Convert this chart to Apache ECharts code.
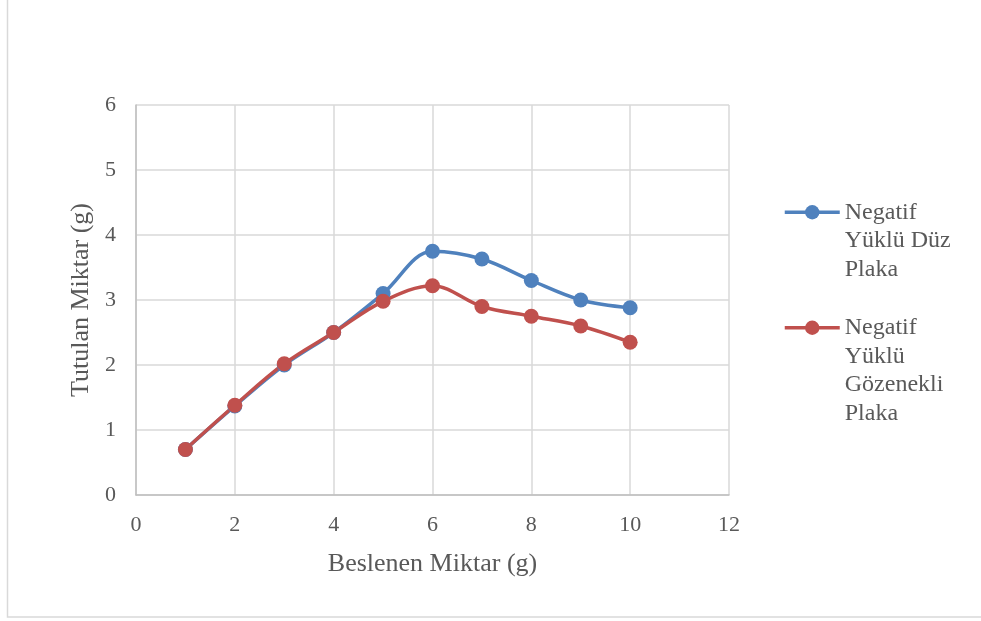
<!DOCTYPE html>
<html>
<head>
<meta charset="utf-8">
<script src="https://cdn.jsdelivr.net/npm/echarts@6/dist/echarts.min.js"></script>
<style>
  html, body { margin: 0; padding: 0; background: #ffffff; }
  #chart { width: 981px; height: 621px; }
</style>
</head>
<body>
<div id="chart"></div>
<script>
// Fed amount (g) and retained amount (g) for the two plate types
const beslenen = [1, 2, 3, 4, 5, 6, 7, 8, 9, 10];
const duzPlaka = [0.70, 1.37, 2.00, 2.50, 3.10, 3.75, 3.63, 3.30, 3.00, 2.88];
const gozenekliPlaka = [0.70, 1.38, 2.02, 2.50, 2.98, 3.22, 2.90, 2.75, 2.60, 2.35];
const seriesNames = ['Negatif Yüklü Düz Plaka', 'Negatif Yüklü Gözenekli Plaka'];
// Legend text broken into lines, as in the chart's legend box
const legendLines = [
  ['Negatif', 'Yüklü Düz', 'Plaka'],
  ['Negatif', 'Yüklü', 'Gözenekli', 'Plaka']
];

const FONT = '"Liberation Serif", "Times New Roman", serif';
const TEXT = '#595959';

function pairs(xs, ys) { return xs.map((x, i) => [x, ys[i]]); }

// Legend icon sits beside the first text line: pad with blank lines above
// so that the first line lands on the vertical centre of the item.
function legendText(lines) {
  return '\n'.repeat(lines.length - 1) + lines.join('\n');
}

const chart = echarts.init(document.getElementById('chart'), null, { renderer: 'canvas' });

const legendCommon = {
  orient: 'vertical',
  left: 778,
  itemWidth: 55,
  itemHeight: 18,
  itemGap: 0,
  lineStyle: { width: 3.5 },
  textStyle: { fontFamily: FONT, fontSize: 24, color: TEXT, lineHeight: 28.5 }
};

chart.setOption({
  backgroundColor: '#ffffff',
  animation: false,
  graphic: [{
    type: 'rect',
    shape: { x: 7.5, y: -1, width: 980, height: 618 },
    style: { fill: 'none', stroke: '#d9d9d9', lineWidth: 1.5 },
    silent: true
  }],
  grid: { left: 136, right: 252, top: 105, bottom: 126 },
  legend: [
    Object.assign({}, legendCommon, {
      top: 136,
      data: [seriesNames[0]],
      formatter: () => legendText(legendLines[0])
    }),
    Object.assign({}, legendCommon, {
      top: 223,
      data: [seriesNames[1]],
      formatter: () => legendText(legendLines[1])
    })
  ],
  xAxis: {
    type: 'value',
    min: 0, max: 12, interval: 2,
    name: 'Beslenen Miktar (g)',
    nameLocation: 'middle',
    nameGap: 56,
    nameTextStyle: { fontFamily: FONT, fontSize: 26, color: TEXT },
    axisLine: { show: true, lineStyle: { color: '#bfbfbf', width: 1.5 } },
    axisTick: { show: false },
    axisLabel: { fontFamily: FONT, fontSize: 22, color: TEXT, margin: 19 },
    splitLine: { show: true, lineStyle: { color: '#d9d9d9', width: 1.5 } }
  },
  yAxis: {
    type: 'value',
    min: 0, max: 6, interval: 1,
    name: 'Tutulan Miktar (g)',
    nameLocation: 'middle',
    nameGap: 41,
    nameTextStyle: { fontFamily: FONT, fontSize: 26, color: TEXT },
    axisLine: { show: true, lineStyle: { color: '#bfbfbf', width: 1.5 } },
    axisTick: { show: false },
    axisLabel: { fontFamily: FONT, fontSize: 22, color: TEXT, margin: 20 },
    splitLine: { show: true, lineStyle: { color: '#d9d9d9', width: 1.5 } }
  },
  series: [
    {
      name: seriesNames[0],
      type: 'line',
      data: pairs(beslenen, duzPlaka),
      smooth: 0.35,
      symbol: 'circle',
      symbolSize: 15,
      color: '#4f81bd',
      lineStyle: { width: 3.5, color: '#4f81bd' },
      itemStyle: { color: '#4f81bd' }
    },
    {
      name: seriesNames[1],
      type: 'line',
      data: pairs(beslenen, gozenekliPlaka),
      smooth: 0.35,
      symbol: 'circle',
      symbolSize: 15,
      color: '#c0504d',
      lineStyle: { width: 3.5, color: '#c0504d' },
      itemStyle: { color: '#c0504d' }
    }
  ]
});
</script>
</body>
</html>
